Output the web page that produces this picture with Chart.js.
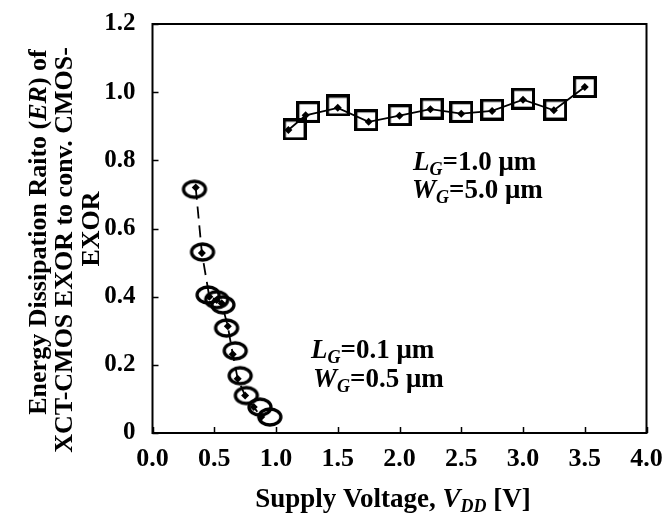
<!DOCTYPE html>
<html>
<head>
<meta charset="utf-8">
<script src="https://cdn.jsdelivr.net/npm/chart.js@4.4.1/dist/chart.umd.min.js"></script>
<style>
  html, body { margin: 0; padding: 0; background: #fff; }
  #wrap { width: 663px; height: 516px; }
</style>
</head>
<body>
<div id="wrap"><canvas id="chart"></canvas></div>
<script>
const FONT = "'Liberation Serif', 'Times New Roman', serif";

// L_G = 1.0 um curve: simulated (diamonds + line) and squares
const vddLarge = [1.10, 1.24, 1.50, 1.75, 2.00, 2.25, 2.50, 2.75, 3.00, 3.25, 3.50];
const erLarge = [0.889, 0.932, 0.954, 0.913, 0.931, 0.950, 0.937, 0.945, 0.978, 0.947, 1.015];
const vddLargeSq = [1.15, 1.26, 1.50, 1.73, 2.00, 2.26, 2.50, 2.75, 3.00, 3.26, 3.50];
const erLargeSq = [0.891, 0.942, 0.961, 0.918, 0.933, 0.952, 0.942, 0.949, 0.981, 0.949, 1.015];

// L_G = 0.1 um curve: diamonds + dashed line, and circles
const vddSmall = [0.35, 0.40, 0.46, 0.52, 0.56, 0.61, 0.65, 0.69, 0.75, 0.82, 0.88];
const erSmall = [0.720, 0.528, 0.400, 0.390, 0.381, 0.313, 0.231, 0.159, 0.110, 0.076, 0.047];
const vddSmallC = [0.34, 0.405, 0.45, 0.52, 0.57, 0.60, 0.67, 0.71, 0.76, 0.87, 0.95];
const erSmallC = [0.715, 0.531, 0.405, 0.391, 0.376, 0.308, 0.241, 0.168, 0.110, 0.076, 0.047];

const xTickLabels = ['0.0', '0.5', '1.0', '1.5', '2.0', '2.5', '3.0', '3.5', '4.0'];
const yTickLabels = ['0', '0.2', '0.4', '0.6', '0.8', '1.0', '1.2'];

const toPts = (xs, ys) => xs.map((x, i) => ({ x: x, y: ys[i] }));

// hollow marker images
function ellipseMarker(w, h, lw) {
    const c = document.createElement('canvas');
    c.width = w + lw * 2;
    c.height = h + lw * 2;
    const g = c.getContext('2d');
    g.lineWidth = lw;
    g.strokeStyle = '#000';
    g.beginPath();
    g.ellipse(c.width / 2, c.height / 2, w / 2, h / 2, 0, 0, Math.PI * 2);
    g.stroke();
    return c;
}
function squareMarker(w, h, lw) {
    const c = document.createElement('canvas');
    c.width = w + lw;
    c.height = h + lw;
    const g = c.getContext('2d');
    g.lineWidth = lw;
    g.strokeStyle = '#000';
    g.strokeRect(lw / 2, lw / 2, w, h);
    return c;
}

// draws a list of text runs left to right
function richWidth(ctx, runs) {
    let w = 0;
    runs.forEach(r => { ctx.font = r.f; w += ctx.measureText(r.t).width; });
    return w;
}
function drawRich(ctx, runs, x, y, align) {
    let cx = align === 'center' ? x - richWidth(ctx, runs) / 2 : x;
    ctx.textBaseline = 'alphabetic';
    ctx.textAlign = 'left';
    runs.forEach(r => {
        ctx.font = r.f;
        ctx.fillText(r.t, cx, y + (r.dy || 0));
        cx += ctx.measureText(r.t).width;
    });
}

const B = (s) => `bold ${s}px ${FONT}`;
const BI = (s) => `italic bold ${s}px ${FONT}`;

function gateLabel(letter, val) {
    return [
        { t: letter, f: BI(27) },
        { t: 'G', f: BI(18), dy: 5 },
        { t: '=' + val + ' \u03bcm', f: B(27) }
    ];
}

const framePlugin = {
    id: 'frame',
    afterDraw(chart) {
        const ctx = chart.ctx;
        const a = chart.chartArea;
        const xs = chart.scales.x, ys = chart.scales.y;
        ctx.save();
        ctx.strokeStyle = '#000';
        ctx.fillStyle = '#000';
        ctx.lineWidth = 2;
        ctx.strokeRect(a.left, a.top, a.right - a.left, a.bottom - a.top);
        // inward ticks
        ctx.beginPath();
        xs.ticks.forEach(t => {
            const px = Math.round(xs.getPixelForValue(t.value)) + 0.5;
            ctx.moveTo(px, a.bottom);
            ctx.lineTo(px, a.bottom - 6);
        });
        ys.ticks.forEach(t => {
            const py = Math.round(ys.getPixelForValue(t.value)) + 0.5;
            ctx.moveTo(a.left, py);
            ctx.lineTo(a.left + 6, py);
        });
        ctx.lineWidth = 1.5;
        ctx.stroke();

        // x axis title
        drawRich(ctx, [
            { t: 'Supply Voltage, ', f: B(27) },
            { t: 'V', f: BI(27) },
            { t: 'DD', f: BI(18), dy: 5 },
            { t: ' [V]', f: B(27) }
        ], 393, 507, 'center');

        // y axis title, three lines rotated
        const yLines = [
            [{ t: 'Energy Dissipation Raito (', f: B(26) }, { t: 'ER', f: BI(26) }, { t: ') of', f: B(26) }],
            [{ t: 'XCT-CMOS EXOR to conv. CMOS-', f: B(26) }],
            [{ t: 'EXOR', f: B(26) }]
        ];
        const baseX = [46, 72, 98.5];
        const midY = [232, 250, 229];
        yLines.forEach((runs, i) => {
            ctx.save();
            ctx.translate(baseX[i], midY[i]);
            ctx.rotate(-Math.PI / 2);
            drawRich(ctx, runs, 0, 0, 'center');
            ctx.restore();
        });

        // annotations
        drawRich(ctx, gateLabel('L', '1.0'), 413, 170, 'left');
        drawRich(ctx, gateLabel('W', '5.0'), 412, 198, 'left');
        drawRich(ctx, gateLabel('L', '0.1'), 311, 358, 'left');
        drawRich(ctx, gateLabel('W', '0.5'), 313, 387, 'left');
        ctx.restore();
    }
};

const ctx = document.getElementById('chart').getContext('2d');
const chart = new Chart(ctx, {
    type: 'scatter',
    data: {
        datasets: [
            {
                data: toPts(vddLargeSq, erLargeSq),
                showLine: false,
                pointStyle: squareMarker(21, 19, 3.3),
                pointRadius: 11,
                borderColor: '#000',
                backgroundColor: 'rgba(0,0,0,0)'
            },
            {
                data: toPts(vddLarge, erLarge),
                showLine: true,
                borderColor: '#000',
                borderWidth: 1.8,
                pointStyle: 'rectRot',
                pointRadius: 4,
                pointBackgroundColor: '#000',
                pointBorderWidth: 0,
                backgroundColor: '#000'
            },
            {
                data: toPts(vddSmallC, erSmallC),
                showLine: false,
                pointStyle: ellipseMarker(22, 16, 3.3),
                pointRadius: 11,
                borderColor: '#000',
                backgroundColor: 'rgba(0,0,0,0)'
            },
            {
                data: toPts(vddSmall, erSmall),
                showLine: true,
                borderColor: '#000',
                borderWidth: 1.8,
                borderDash: [12, 7],
                pointStyle: 'rectRot',
                pointRadius: 4,
                pointBackgroundColor: '#000',
                pointBorderWidth: 0,
                backgroundColor: '#000'
            }
        ]
    },
    options: {
        responsive: true,
        maintainAspectRatio: false,
        animation: false,
        layout: { padding: { left: 0, right: 16.5, top: 19.5, bottom: 0 } },
        plugins: {
            legend: { display: false },
            title: { display: false },
            tooltip: { enabled: false }
        },
        scales: {
            x: {
                type: 'linear',
                min: 0,
                max: 4,
                grid: { display: false },
                border: { display: false },
                ticks: {
                    stepSize: 0.5,
                    padding: 3,
                    color: '#000',
                    maxRotation: 0,
                    font: { family: FONT, size: 26, weight: 'bold' },
                    callback: (v, i) => xTickLabels[i]
                },
                afterFit: (s) => { s.height = 83; s.paddingRight = 0; }
            },
            y: {
                min: 0,
                max: 1.2,
                grid: { display: false },
                border: { display: false },
                ticks: {
                    stepSize: 0.2,
                    padding: 9,
                    color: '#000',
                    font: { family: FONT, size: 25, weight: 'bold' },
                    callback: (v, i) => yTickLabels[i]
                },
                afterFit: (s) => { s.width = 152.5; }
            }
        }
    },
    plugins: [framePlugin]
});
</script>
</body>
</html>
